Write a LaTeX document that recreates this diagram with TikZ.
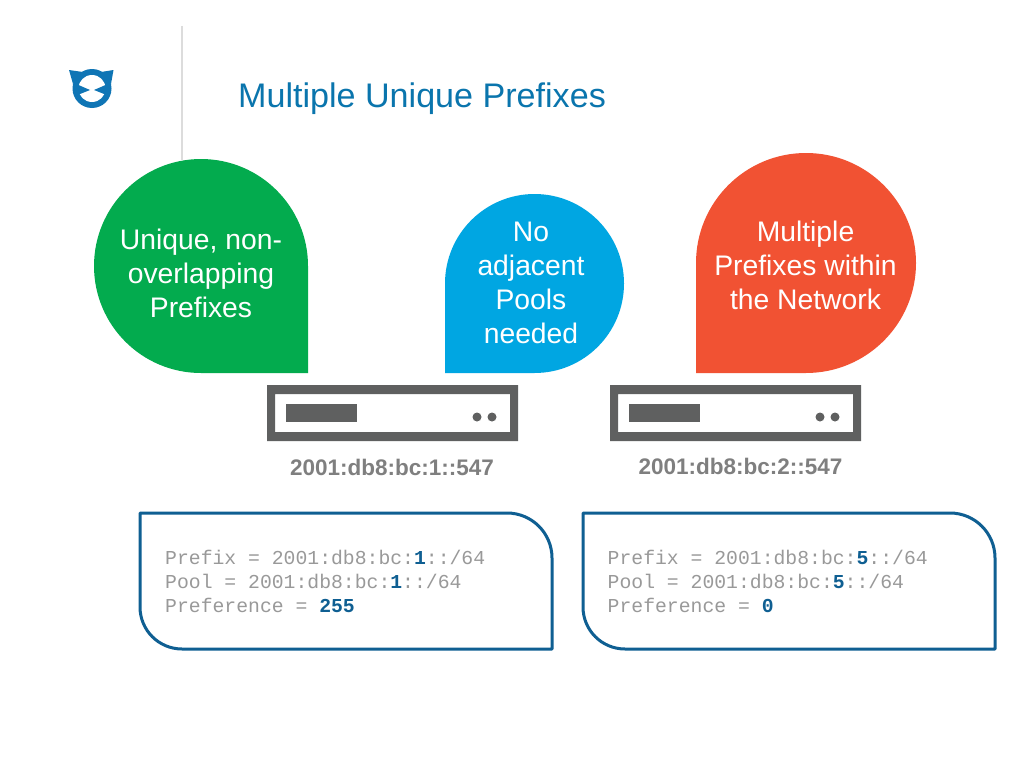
\documentclass[tikz,border=0pt]{standalone}
\usepackage{fontspec}
\setmainfont{Liberation Sans}
\setmonofont{Liberation Mono}
\definecolor{titleblue}{HTML}{0A75AD}
\definecolor{logoblue}{HTML}{0F75B5}
\definecolor{boxblue}{HTML}{0F5F92}
\definecolor{petalgreen}{HTML}{03AB4E}
\definecolor{petalblue}{HTML}{00A6E2}
\definecolor{petalred}{HTML}{F15233}
\definecolor{servergray}{HTML}{5F6060}
\definecolor{labelgray}{HTML}{7F7F7F}
\definecolor{monogray}{HTML}{999999}
\definecolor{rulegray}{HTML}{DCDCDC}
\tikzset{
  petaltext/.style={text=white,align=center,font=\fontsize{28.3}{34}\selectfont,inner sep=0pt},
  addrtext/.style={text=labelgray,font=\bfseries\fontsize{22.5}{26}\selectfont,inner sep=0pt},
  monotext/.style={text=monogray,align=left,anchor=north west,font=\ttfamily\fontsize{19.75}{24}\selectfont,inner sep=0pt},
  infobox/.style={draw=boxblue,line width=3pt,line join=round,fill=white}
}
\newcommand{\hlb}[1]{\textcolor{boxblue}{\bfseries #1}}
\newcommand{\serverdraw}[1]{%
  \begin{scope}[shift={(#1,0)}]
    \fill[servergray,even odd rule] (267,385) rectangle (518,441) (275,394) rectangle (510,432);
    \fill[servergray] (286,404) rectangle (357,422);
    \fill[servergray] (477,417) circle (4.5);
    \fill[servergray] (492,417) circle (4.5);
  \end{scope}}
\begin{document}
\begin{tikzpicture}[x=1pt,y=-1pt]
\useasboundingbox (0,0) rectangle (1024,768);
\fill[white] (0,0) rectangle (1024,768);
% vertical rule
\draw[rulegray,line width=2pt] (181.5,26) -- (181.5,160);
% logo
\fill[logoblue] (92,88.5) circle (19.5);
\fill[logoblue] (69,70) -- (83,72) -- (73,84) -- cycle;
\fill[logoblue] (113.5,70) -- (101,72) -- (111,84) -- cycle;
\fill[white] (92,88.5) circle (13.5);
\fill[logoblue] (75,83.5) -- (90,90) -- (75,96) -- cycle;
\fill[logoblue] (109,83.5) -- (94,90) -- (109,96) -- cycle;
% title
\node[anchor=west,text=titleblue,inner sep=0pt,font=\fontsize{34.1}{38}\selectfont] (title) at (238,99) {Multiple Unique Prefixes};
% petals
\fill[petalgreen] (308,373) -- (201,373) arc[start angle=90,end angle=360,radius=107] -- cycle;
\fill[petalblue] (445,373) -- (445,283.5) arc[start angle=180,end angle=450,radius=89.5] -- cycle;
\fill[petalred] (696,373) -- (696,263) arc[start angle=180,end angle=450,radius=110] -- cycle;
\node[petaltext] (green) at (201,273.5) {Unique, non-\\overlapping\\Prefixes};
\node[petaltext] (blue) at (531,282.5) {No\\adjacent\\Pools\\needed};
\node[petaltext] (red) at (805.5,265) {Multiple\\Prefixes within\\the Network};
% servers
\serverdraw{0}
\serverdraw{343}
\node[addrtext] (addr1) at (392,467) {2001:db8:bc:1::547};
\node[addrtext] (addr2) at (740.5,466) {2001:db8:bc:2::547};
% boxes
\draw[infobox] (140,513) -- (507,513) arc[start angle=270,end angle=360,radius=45] -- (552,649) -- (182,649) arc[start angle=90,end angle=180,radius=42] -- cycle;
\draw[infobox] (583,513) -- (950,513) arc[start angle=270,end angle=360,radius=45] -- (995,649) -- (625,649) arc[start angle=90,end angle=180,radius=42] -- cycle;
\node[monotext] (cfg1) at (165,549.5) {Prefix = 2001:db8:bc:\hlb{1}::/64\\Pool = 2001:db8:bc:\hlb{1}::/64\\Preference = \hlb{255}};
\node[monotext] (cfg2) at (607.5,549.5) {Prefix = 2001:db8:bc:\hlb{5}::/64\\Pool = 2001:db8:bc:\hlb{5}::/64\\Preference = \hlb{0}};
\end{tikzpicture}
\end{document}
